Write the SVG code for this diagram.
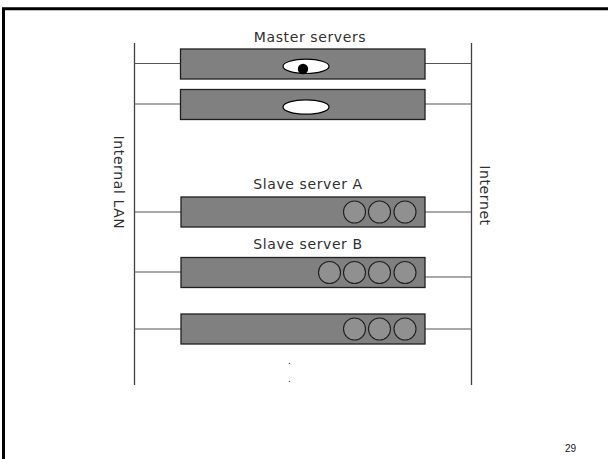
<svg xmlns="http://www.w3.org/2000/svg" width="608" height="459" viewBox="0 0 608 459">
  <style>
    .bus { stroke: #404040; stroke-width: 1.3; fill: none; }
    .link { stroke: #555555; stroke-width: 1.2; fill: none; }
    .box { fill: #808080; stroke: #202020; stroke-width: 1.3; }
    .disk { fill: #909090; stroke: #202020; stroke-width: 1.1; }
    .lens { fill: #ffffff; stroke: #000000; stroke-width: 1.2; }
    .label { font-family: "DejaVu Sans", Verdana, sans-serif; font-size: 14px; letter-spacing: 0.6px; fill: #303030; }
    .page { font-family: "Liberation Sans", Arial, sans-serif; font-size: 10px; fill: #202020; }
  </style>

  <!-- page frame -->
  <path d="M3.5 459 V8.8 H608" stroke="#000" stroke-width="3" fill="none"/>

  <!-- network buses and links -->
  <g id="connectors">
    <line class="bus" x1="134.5" y1="43" x2="134.5" y2="385"/>
    <line class="bus" x1="471.5" y1="43" x2="471.5" y2="385"/>
    <line class="link" x1="134.5" y1="63.5" x2="180" y2="63.5"/>
    <line class="link" x1="425" y1="63.5" x2="471.5" y2="63.5"/>
    <line class="link" x1="134.5" y1="104" x2="180" y2="104"/>
    <line class="link" x1="425" y1="104" x2="471.5" y2="104"/>
    <line class="link" x1="134.5" y1="212" x2="181" y2="212"/>
    <line class="link" x1="425" y1="212" x2="471.5" y2="212"/>
    <line class="link" x1="134.5" y1="272" x2="181" y2="272"/>
    <line class="link" x1="425" y1="277" x2="471.5" y2="277"/>
    <line class="link" x1="134.5" y1="329" x2="181" y2="329"/>
    <line class="link" x1="425" y1="329" x2="471.5" y2="329"/>
  </g>

  <!-- bus labels -->
  <text id="lan-label" class="label" transform="translate(113.5,182.5) rotate(90)" text-anchor="middle">Internal LAN</text>
  <text id="internet-label" class="label" transform="translate(480,195.5) rotate(90)" text-anchor="middle">Internet</text>

  <!-- master servers -->
  <g id="master1">
    <text class="label" x="310" y="41.5" text-anchor="middle">Master servers</text>
    <rect class="box" x="180.5" y="49" width="244.5" height="30"/>
    <ellipse class="lens" cx="306" cy="66.3" rx="23" ry="7.2"/>
    <circle cx="303" cy="69" r="5.2" fill="#000"/>
  </g>
  <g id="master2">
    <rect class="box" x="180.5" y="89.5" width="244.5" height="30"/>
    <ellipse class="lens" cx="306" cy="107" rx="23" ry="7.2"/>
  </g>

  <!-- slave servers -->
  <g id="slaveA">
    <text class="label" x="308" y="189" text-anchor="middle">Slave server A</text>
    <rect class="box" x="181" y="197" width="244" height="30"/>
    <circle class="disk" cx="354.5" cy="212" r="11"/>
    <circle class="disk" cx="379.5" cy="212" r="11"/>
    <circle class="disk" cx="405" cy="212" r="11"/>
  </g>
  <g id="slaveB">
    <text class="label" x="308" y="249" text-anchor="middle">Slave server B</text>
    <rect class="box" x="181" y="257.5" width="244" height="30"/>
    <circle class="disk" cx="329.5" cy="272.5" r="11"/>
    <circle class="disk" cx="354.5" cy="272.5" r="11"/>
    <circle class="disk" cx="379.5" cy="272.5" r="11"/>
    <circle class="disk" cx="405" cy="272.5" r="11"/>
  </g>
  <g id="slaveC">
    <rect class="box" x="181" y="314" width="244" height="30"/>
    <circle class="disk" cx="354.5" cy="329" r="11"/>
    <circle class="disk" cx="379.5" cy="329" r="11"/>
    <circle class="disk" cx="405" cy="329" r="11"/>
  </g>

  <!-- continuation dots -->
  <g id="more">
    <text class="page" x="289.5" y="364" text-anchor="middle">.</text>
    <text class="page" x="289.5" y="382" text-anchor="middle">.</text>
  </g>

  <text id="page-number" class="page" x="565" y="451.5">29</text>
</svg>
